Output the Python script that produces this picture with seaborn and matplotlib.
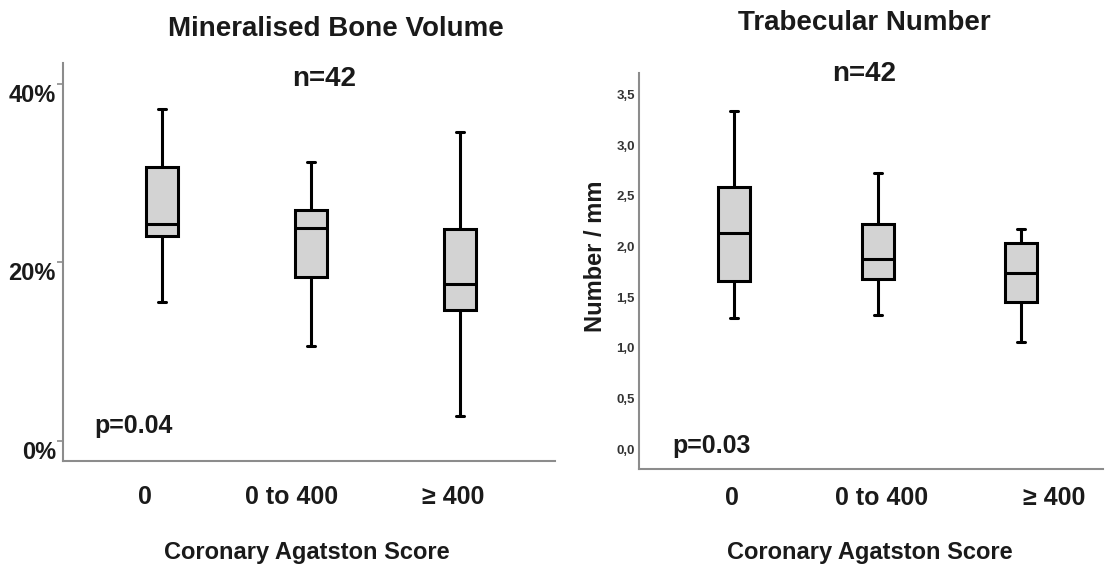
import numpy as np
import pandas as pd
import matplotlib
matplotlib.use("Agg")
import matplotlib.pyplot as plt
import matplotlib.transforms as mtransforms
import seaborn as sns

# ---- data (five-number summaries) ----
categories = ["0", "0 to 400", "\u2265 400"]
# Mineralised bone volume (%): [min, Q1, median, Q3, max]
mbv_0 = [15.6, 22.9, 24.3, 30.7, 37.1]
mbv_0_400 = [10.6, 18.4, 23.8, 25.8, 31.2]
mbv_400 = [2.8, 14.7, 17.6, 23.7, 34.6]
# Trabecular number (1/mm): [min, Q1, median, Q3, max]
tbn_0 = [1.29, 1.66, 2.13, 2.59, 3.34]
tbn_0_400 = [1.32, 1.68, 1.88, 2.22, 2.72]
tbn_400 = [1.06, 1.45, 1.74, 2.03, 2.17]

left_yticks = [0, 20, 40]
left_yticklabels = ["0%", "20%", "40%"]
right_yticks = [0.0, 0.5, 1.0, 1.5, 2.0, 2.5, 3.0, 3.5]
right_yticklabels = ["0,0", "0,5", "1,0", "1,5", "2,0", "2,5", "3,0", "3,5"]

titles = ["Mineralised Bone Volume", "Trabecular Number"]
n_text = "n=42"
p_texts = ["p=0.04", "p=0.03"]
xlabel = "Coronary Agatston Score"
right_ylabel = "Number / mm"

df_mbv = pd.DataFrame({
    "group": np.repeat(categories, 5),
    "value": mbv_0 + mbv_0_400 + mbv_400,
})
df_tbn = pd.DataFrame({
    "group": np.repeat(categories, 5),
    "value": tbn_0 + tbn_0_400 + tbn_400,
})

# ---- style ----
sns.set_style("white")
plt.rcParams["font.family"] = ["Liberation Sans", "DejaVu Sans"]
plt.rcParams["font.weight"] = "bold"
TXT = "#1a1a1a"
SPINE = "#8c8c8c"
FILL = "#d3d3d3"

W, H = 1108, 564
fig = plt.figure(figsize=(W / 100, H / 100), dpi=100)

def px(x0, y0, x1, y1):
    return [x0 / W, 1 - y1 / H, (x1 - x0) / W, (y1 - y0) / H]

axL = fig.add_axes(px(62.7, 63, 555, 461))
axR = fig.add_axes(px(639, 73, 1103, 469.3))

box_kw = dict(color=FILL, linecolor="black", linewidth=2.2, saturation=1,
              fliersize=0, whis=(0, 100), order=categories, capwidths=0.055)

sns.boxplot(data=df_mbv, x="group", y="value", width=0.215, ax=axL, **box_kw)
sns.boxplot(data=df_tbn, x="group", y="value", width=0.225, ax=axR, **box_kw)

for ax in (axL, axR):
    for s in ("top", "right"):
        ax.spines[s].set_visible(False)
    for s in ("left", "bottom"):
        ax.spines[s].set_color(SPINE)
        ax.spines[s].set_linewidth(1.5)
    ax.set_xlabel("")
    ax.set_ylabel("")

# left panel axes
axL.set_xlim(-0.668, 2.64)
axL.set_ylim(-2.23, 42.3)
axL.set_yticks(left_yticks)
axL.set_yticklabels(left_yticklabels, fontsize=17, fontweight="bold", color=TXT)
axL.tick_params(axis="y", length=4, width=1.2, color=SPINE, pad=1, left=True)
axL.tick_params(axis="x", length=0, pad=17.6)
axL.set_xticks(range(len(categories)))
axL.set_xticklabels(categories, fontsize=18, fontweight="bold", color=TXT)
for lab in axL.get_yticklabels():
    lab.set_transform(lab.get_transform() +
                      mtransforms.ScaledTranslation(0, -9 / 100, fig.dpi_scale_trans))
for lab, dx in zip(axL.get_xticklabels(), [-17, -19, -7]):
    lab.set_transform(lab.get_transform() +
                      mtransforms.ScaledTranslation(dx / 100, 0, fig.dpi_scale_trans))

# right panel axes
axR.set_xlim(-0.663, 2.57)
axR.set_ylim(-0.197, 3.71)
axR.set_yticks(right_yticks)
axR.set_yticklabels(right_yticklabels, fontsize=9.5, fontweight="bold", color="#333333")
axR.tick_params(axis="y", length=0, pad=3)
axR.tick_params(axis="x", length=0, pad=12)
axR.set_xticks(range(len(categories)))
axR.set_xticklabels(categories, fontsize=18, fontweight="bold", color=TXT)
for lab, dx in zip(axR.get_xticklabels(), [-2, 4, 33]):
    lab.set_transform(lab.get_transform() +
                      mtransforms.ScaledTranslation(dx / 100, 0, fig.dpi_scale_trans))

axR.set_ylabel(right_ylabel, fontsize=17, fontweight="bold", color=TXT,
               va="center")
axR.yaxis.set_label_coords(-0.093, 0.538)

# x labels
axL.set_xlabel(xlabel, fontsize=17, fontweight="bold", color=TXT, va="center")
axL.xaxis.set_label_coords(0.496, -0.229)
axR.set_xlabel(xlabel, fontsize=17, fontweight="bold", color=TXT, va="center")
axR.xaxis.set_label_coords(0.498, -0.209)

def ftext(x, y, s, **kw):
    fig.text(x / W, 1 - y / H, s, color=TXT, fontweight="bold", **kw)

ftext(335.5, 36, titles[0], fontsize=20, ha="center", va="baseline")
ftext(864, 29.6, titles[1], fontsize=20, ha="center", va="baseline")
ftext(324, 86, n_text, fontsize=20, ha="center", va="baseline")
ftext(864, 81, n_text, fontsize=20, ha="center", va="baseline")
ftext(94, 433, p_texts[0], fontsize=18, ha="left", va="baseline")
ftext(672.7, 452.7, p_texts[1], fontsize=18, ha="left", va="baseline")

fig.savefig("out.png", dpi=100, facecolor="white")
